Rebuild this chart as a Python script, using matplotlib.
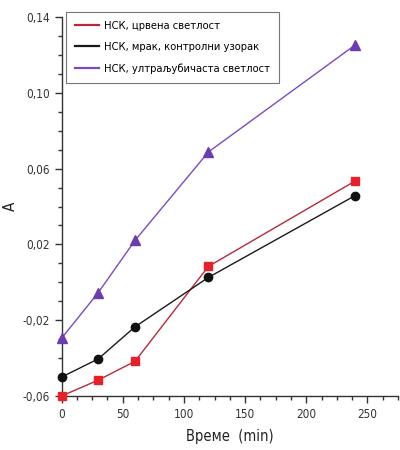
import matplotlib
matplotlib.use("Agg")
import matplotlib.pyplot as plt
import numpy as np
from matplotlib.ticker import MultipleLocator, FixedLocator, FuncFormatter
from matplotlib import font_manager

names = {f.name for f in font_manager.fontManager.ttflist}
if "Liberation Sans Narrow" in names:
    fam = "Liberation Sans Narrow"
    stretch = "normal"
else:
    fam = "DejaVu Sans"
    stretch = "condensed"
plt.rcParams['font.family'] = [fam, 'DejaVu Sans']
plt.rcParams['font.stretch'] = stretch

time = [0, 30, 60, 120, 240]
red = [-0.060, -0.0516, -0.0417, 0.0084, 0.0535]
dark = [-0.050, -0.0404, -0.0235, 0.0026, 0.0458]
uv = [-0.0295, -0.0054, 0.0221, 0.0688, 0.1253]
labels = ["НСК, црвена светлост", "НСК, мрак, контролни узорак", "НСК, ултраљубичаста светлост"]
yticks = [-0.06, -0.02, 0.02, 0.06, 0.10, 0.14]

fig = plt.figure(figsize=(4, 4.5), dpi=100)
ax = fig.add_axes([0.154, 0.12, 0.841, 0.842])

ax.plot(time, red, color="#b8283c", lw=1.0, marker="s", ms=5.5, mfc="#e8202a", mec="#e8202a", label=labels[0], clip_on=False, zorder=3)
ax.plot(time, dark, color="#1a1a1a", lw=1.0, marker="o", ms=6, mfc="#111111", mec="#111111", label=labels[1], clip_on=False, zorder=3)
ax.plot(time, uv, color="#7a4cc0", lw=1.0, marker="^", ms=6.5, mfc="#6a3cb0", mec="#6a3cb0", label=labels[2], clip_on=False, zorder=3)

ax.set_xlim(0, 275)
ax.set_ylim(-0.06, 0.14)
ax.xaxis.set_major_locator(MultipleLocator(50))
ax.xaxis.set_minor_locator(MultipleLocator(12.5))
ax.yaxis.set_major_locator(FixedLocator(yticks))
ax.yaxis.set_minor_locator(FixedLocator(np.round(np.arange(-0.06, 0.1401, 0.01), 3)))
ax.yaxis.set_major_formatter(FuncFormatter(lambda v, p: f"{v:.2f}".replace(".", ",")))

for s in ["top", "right"]:
    ax.spines[s].set_visible(False)
for s in ["left", "bottom"]:
    ax.spines[s].set_color("#333333")
    ax.spines[s].set_linewidth(1.0)
ax.tick_params(which="major", direction="out", length=5, width=1, color="#333333", labelsize=8.5, labelcolor="#333333")
ax.tick_params(which="minor", direction="out", length=3, width=1, color="#333333")

ax.set_xlabel("Време  (min)", fontsize=10.5, color="#222222", labelpad=6)
ax.set_ylabel("A", fontsize=11, color="#222222")
ax.yaxis.set_label_coords(-0.13, 0.5)

leg = ax.legend(loc="upper left", bbox_to_anchor=(0.013, 1.013), borderaxespad=0, fontsize=8, frameon=True,
                fancybox=False, edgecolor="#555555", handlelength=2.2, handletextpad=0.45, borderpad=0.8,
                labelspacing=1.0)
leg.get_frame().set_linewidth(0.8)
leg.set_zorder(2)
for line in leg.get_lines():
    line.set_marker("")
    line.set_linewidth(1.6)

fig.savefig("out.png", dpi=100)
